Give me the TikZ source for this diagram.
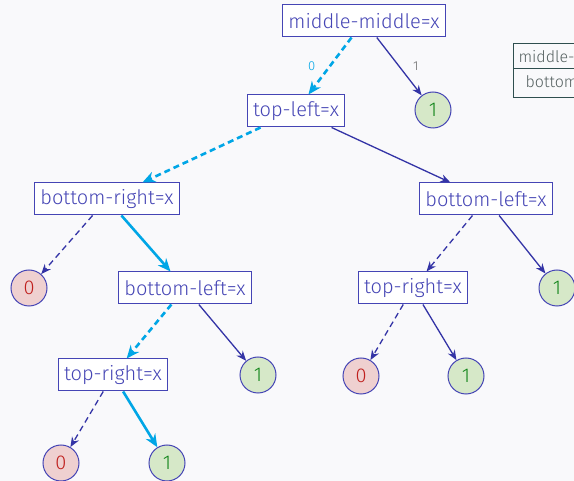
\documentclass[tikz,border=0pt]{standalone}
\usepackage{fontspec}
\setmainfont{Fira Sans}[UprightFont=* Light]
\usetikzlibrary{arrows.meta,shapes.multipart}

\definecolor{bgcol}{HTML}{F9F9FB}
\definecolor{ink}{HTML}{4545B5}
\definecolor{edgecol}{HTML}{3434A6}
\definecolor{hotcol}{HTML}{00A6E6}
\definecolor{zerofill}{HTML}{EFD0D0}
\definecolor{zerotext}{HTML}{C0201E}
\definecolor{onefill}{HTML}{D6E8C8}
\definecolor{onetext}{HTML}{12851A}
\definecolor{tabline}{HTML}{2F4F4F}
\definecolor{tabtext}{HTML}{556060}

\begin{document}
\begin{tikzpicture}[
  x=1pt,y=-1pt,
  test/.style={draw=ink, text=ink, fill=white, line width=1pt, minimum height=32pt, inner xsep=6pt, font=\fontsize{20}{24}\selectfont},
  leaf/.style={circle, draw=ink, line width=1pt, minimum size=36pt, inner sep=0pt, font=\fontsize{20}{24}\selectfont},
  leafzero/.style={leaf, fill=zerofill, text=zerotext},
  leafone/.style={leaf, fill=onefill, text=onetext},
  arr/.style={-{Stealth[length=10pt,width=8pt]}, draw=edgecol, line width=1.3pt},
  arrzero/.style={arr, dashed, dash pattern=on 6pt off 4pt},
  hot/.style={-{Stealth[length=13pt,width=11pt]}, draw=hotcol, line width=2.6pt},
  hotzero/.style={hot, dash pattern=on 6pt off 4pt},
  lbl/.style={font=\fontsize{13}{15}\selectfont}
]
\useasboundingbox[fill=bgcol] (0,0) rectangle (574,481);

% lookup table at the right edge
\begin{scope}
\clip (0,0) rectangle (574,481);
\node[rectangle split, rectangle split parts=2, draw=tabline, line width=1pt, fill=bgcol, text=tabtext, font=\fontsize{16}{19}\selectfont, inner xsep=5pt, inner ysep=6pt, anchor=north west] (table) at (513,43)
  {middle-middle \nodepart{two} bottom-right};
\end{scope}

% decision nodes
\node[test] (root) at (364,21) {middle-middle=x};
\node[test] (tl) at (296,111) {top-left=x};
\node[test] (br) at (107,199) {bottom-right=x};
\node[test] (blr) at (486,199) {bottom-left=x};
\node[test] (bll) at (185,288) {bottom-left=x};
\node[test] (trr) at (413,288) {top-right=x};
\node[test] (trl) at (113,375) {top-right=x};

% leaves
\node[leafone] (l1) at (433,110) {1};
\node[leafzero] (l2) at (29,288) {0};
\node[leafone] (l3) at (557,288) {1};
\node[leafone] (l4) at (258,375) {1};
\node[leafzero] (l5) at (361,376) {0};
\node[leafone] (l6) at (466,376) {1};
\node[leafzero] (l7) at (61,463) {0};
\node[leafone] (l8) at (167,463) {1};

% edges, 0 branch dashed, chosen path in cyan
\draw[hotzero] (root) -- node[lbl, text=hotcol, left=10pt] {0} (tl);
\draw[arr] (root) -- node[lbl, text=black!60, right=10pt] {1} (l1);
\draw[hotzero] (tl) -- (br);
\draw[arr] (tl) -- (blr);
\draw[arrzero] (br) -- (l2);
\draw[hot] (br) -- (bll);
\draw[arrzero] (blr) -- (trr);
\draw[arr] (blr) -- (l3);
\draw[hotzero] (bll) -- (trl);
\draw[arr] (bll) -- (l4);
\draw[arrzero] (trr) -- (l5);
\draw[arr] (trr) -- (l6);
\draw[arrzero] (trl) -- (l7);
\draw[hot] (trl) -- (l8);
\end{tikzpicture}
\end{document}
